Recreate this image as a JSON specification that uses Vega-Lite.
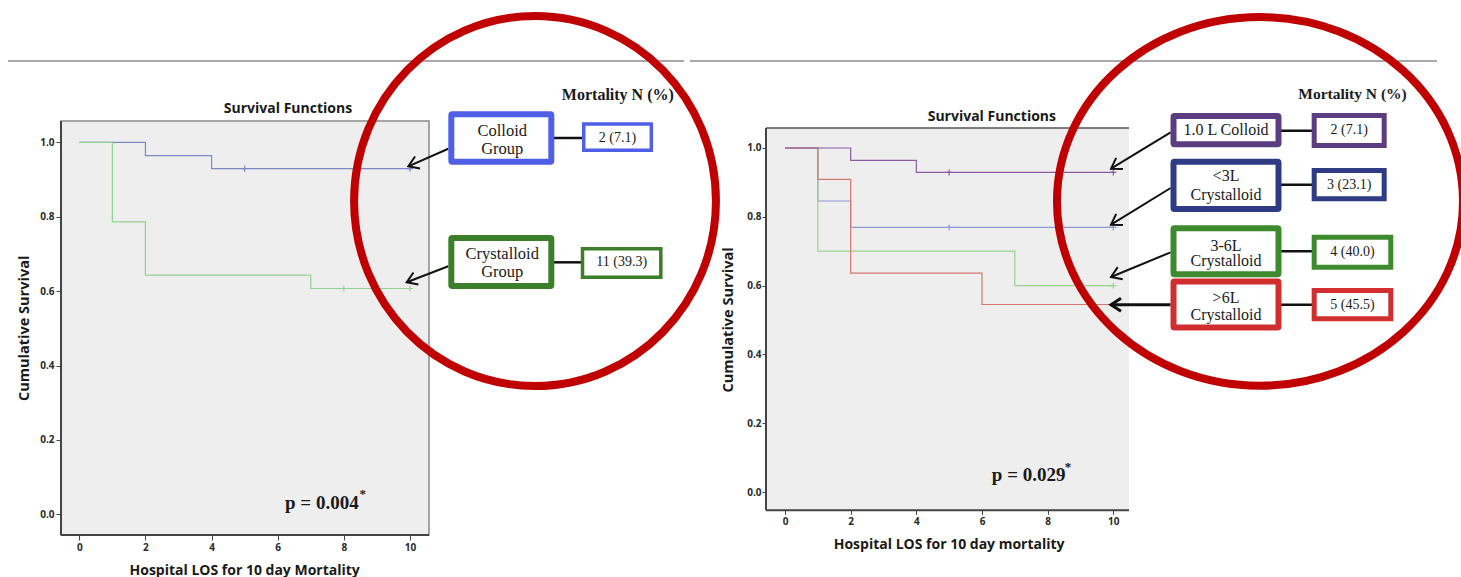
{
  "$schema": "https://vega.github.io/schema/vega-lite/v6.json",
  "padding": 0,
  "spacing": 0,
  "bounds": "flush",
  "background": "white",
  "config": {
    "view": {"stroke": null},
    "axis": {"grid": false, "domain": false, "labelFont": "Open Sans", "labelFontSize": 10, "labelFontWeight": "bold", "labelColor": "#2a2a2a", "tickColor": "#444444", "tickSize": 5, "labelPadding": 2, "titleOpacity": 0}
  },
  "resolve": {"scale": {"x": "independent", "y": "independent", "color": "independent", "stroke": "independent"}},
  "datasets": {
    "kmL": [
      {"group": "Colloid Group", "day": 0, "surv": 1},
      {"group": "Colloid Group", "day": 2, "surv": 0.964},
      {"group": "Colloid Group", "day": 4, "surv": 0.929},
      {"group": "Colloid Group", "day": 10, "surv": 0.929},
      {"group": "Crystalloid Group", "day": 0, "surv": 1},
      {"group": "Crystalloid Group", "day": 1, "surv": 0.786},
      {"group": "Crystalloid Group", "day": 2, "surv": 0.643},
      {"group": "Crystalloid Group", "day": 7, "surv": 0.607},
      {"group": "Crystalloid Group", "day": 10, "surv": 0.607}
    ],
    "censL": [
      {"group": "Colloid Group", "day": 5, "surv": 0.929},
      {"group": "Colloid Group", "day": 10, "surv": 0.929},
      {"group": "Crystalloid Group", "day": 8, "surv": 0.607},
      {"group": "Crystalloid Group", "day": 10, "surv": 0.607}
    ],
    "annL": [
      {"group": "Colloid Group", "bx0": 11.249, "bx1": 14.273, "by0": 1.0753, "by1": 0.9478, "sx0": 15.253, "sx1": 17.297, "sy0": 1.0492, "sy1": 0.9785, "cy": 1.0116, "ax0": 11.158, "ay0": 0.9828, "tx": 9.949, "ty": 0.9355},
      {"group": "Crystalloid Group", "bx0": 11.249, "bx1": 14.273, "by0": 0.7427, "by1": 0.6137, "sx0": 15.216, "sx1": 17.584, "sy0": 0.7137, "sy1": 0.6374, "cy": 0.6774, "ax0": 11.158, "ay0": 0.6667, "tx": 9.9, "ty": 0.6237}
    ],
    "txtL": [
      {"kind": "head", "text": "Survival Functions", "x": 6.31, "y": 1.09},
      {"kind": "mort", "text": "Mortality N (%)", "x": 16.285, "y": 1.1279},
      {"kind": "box", "text": "Colloid", "x": 12.79, "y": 1.0312},
      {"kind": "box", "text": "Group", "x": 12.79, "y": 0.9828},
      {"kind": "box", "text": "Crystalloid", "x": 12.79, "y": 0.7005},
      {"kind": "box", "text": "Group", "x": 12.79, "y": 0.6505},
      {"kind": "n", "text": "2 (7.1)", "x": 16.275, "y": 1.0116},
      {"kind": "n", "text": "11 (39.3)", "x": 16.4, "y": 0.6774},
      {"kind": "p", "text": "p = 0.004", "x": 6.22, "y": 0.03},
      {"kind": "star", "text": "*", "x": 8.47, "y": 0.054},
      {"kind": "yt", "text": "Cumulative Survival", "x": -1.642, "y": 0.5},
      {"kind": "xt", "text": "Hospital LOS for 10 day Mortality", "x": 5.0, "y": -0.152}
    ],
    "kmR": [
      {"group": "<3L Crystalloid", "day": 0, "surv": 1},
      {"group": "<3L Crystalloid", "day": 1, "surv": 0.846},
      {"group": "<3L Crystalloid", "day": 2, "surv": 0.769},
      {"group": "<3L Crystalloid", "day": 10, "surv": 0.769},
      {"group": "3-6L Crystalloid", "day": 0, "surv": 1},
      {"group": "3-6L Crystalloid", "day": 1, "surv": 0.7},
      {"group": "3-6L Crystalloid", "day": 7, "surv": 0.6},
      {"group": "3-6L Crystalloid", "day": 10, "surv": 0.6},
      {"group": ">6L Crystalloid", "day": 0, "surv": 1},
      {"group": ">6L Crystalloid", "day": 1, "surv": 0.909},
      {"group": ">6L Crystalloid", "day": 2, "surv": 0.636},
      {"group": ">6L Crystalloid", "day": 6, "surv": 0.545},
      {"group": ">6L Crystalloid", "day": 10, "surv": 0.545},
      {"group": "1.0 L Colloid", "day": 0, "surv": 1},
      {"group": "1.0 L Colloid", "day": 2, "surv": 0.964},
      {"group": "1.0 L Colloid", "day": 4, "surv": 0.929},
      {"group": "1.0 L Colloid", "day": 10, "surv": 0.929}
    ],
    "censR": [
      {"group": "<3L Crystalloid", "day": 5, "surv": 0.769},
      {"group": "<3L Crystalloid", "day": 10, "surv": 0.769},
      {"group": "3-6L Crystalloid", "day": 10, "surv": 0.6},
      {"group": "1.0 L Colloid", "day": 5, "surv": 0.929},
      {"group": "1.0 L Colloid", "day": 10, "surv": 0.929}
    ],
    "annR": [
      {"group": "1.0 L Colloid", "bx0": 11.834, "bx1": 15.032, "by0": 1.093, "by1": 1.0108, "sx0": 16.119, "sx1": 18.251, "sy0": 1.0945, "sy1": 1.0073, "cy": 1.0503, "ax0": 11.746, "ay0": 1.0456, "tx": 9.93, "ty": 0.9398},
      {"group": "<3L Crystalloid", "bx0": 11.834, "bx1": 15.032, "by0": 0.9602, "by1": 0.8227, "sx0": 16.119, "sx1": 18.251, "sy0": 0.9346, "sy1": 0.8523, "cy": 0.8933, "ax0": 11.746, "ay0": 0.8837, "tx": 9.93, "ty": 0.777},
      {"group": "3-6L Crystalloid", "bx0": 11.834, "bx1": 15.032, "by0": 0.7666, "by1": 0.6328, "sx0": 16.119, "sx1": 18.452, "sy0": 0.7407, "sy1": 0.6535, "cy": 0.6997, "ax0": 11.746, "ay0": 0.6968, "tx": 9.93, "ty": 0.625},
      {"group": ">6L Crystalloid", "bx0": 11.834, "bx1": 15.032, "by0": 0.6119, "by1": 0.4782, "sx0": 16.119, "sx1": 18.452, "sy0": 0.5858, "sy1": 0.5035, "cy": 0.5445, "ax0": 11.746, "ay0": 0.5445, "tx": 9.93, "ty": 0.5445}
    ],
    "txtR": [
      {"kind": "head", "text": "Survival Functions", "x": 6.3, "y": 1.089},
      {"kind": "mort", "text": "Mortality N (%)", "x": 17.286, "y": 1.157},
      {"kind": "box", "text": "1.0 L Colloid", "x": 13.433, "y": 1.0509},
      {"kind": "box", "text": "<3L", "x": 13.433, "y": 0.9177},
      {"kind": "box", "text": "Crystalloid", "x": 13.433, "y": 0.8625},
      {"kind": "box", "text": "3-6L", "x": 13.433, "y": 0.7142},
      {"kind": "box", "text": "Crystalloid", "x": 13.433, "y": 0.6724},
      {"kind": "box", "text": ">6L", "x": 13.433, "y": 0.564},
      {"kind": "box", "text": "Crystalloid", "x": 13.433, "y": 0.5154},
      {"kind": "n", "text": "2 (7.1)", "x": 17.185, "y": 1.0509},
      {"kind": "n", "text": "3 (23.1)", "x": 17.185, "y": 0.8933},
      {"kind": "n", "text": "4 (40.0)", "x": 17.286, "y": 0.6968},
      {"kind": "n", "text": "5 (45.5)", "x": 17.286, "y": 0.5445},
      {"kind": "p", "text": "p = 0.029", "x": 6.3, "y": 0.05},
      {"kind": "star", "text": "*", "x": 8.52, "y": 0.072},
      {"kind": "yt", "text": "Cumulative Survival", "x": -1.706, "y": 0.5},
      {"kind": "xt", "text": "Hospital LOS for 10 day mortality", "x": 5.0, "y": -0.153}
    ]
  },
  "hconcat": [
    {
      "width": 688,
      "height": 577,
      "layer": [
        {
          "data": {"values": [{}]},
          "mark": {"type": "rect", "fill": "#eeeeee", "stroke": "#8a8a8a", "strokeWidth": 1.5},
          "encoding": {
            "x": {"datum": -0.553, "type": "quantitative", "scale": {"domain": [-2.398, 18.406], "nice": false, "zero": false}},
            "x2": {"datum": 10.574},
            "y": {"datum": -0.0556, "type": "quantitative", "scale": {"domain": [-0.1766, 1.3745], "nice": false, "zero": false}},
            "y2": {"datum": 1.0573}
          }
        },
        {
          "data": {"values": [{}]},
          "mark": {"type": "rule", "color": "#444444", "strokeWidth": 2},
          "encoding": {
            "x": {"datum": -0.553, "type": "quantitative"},
            "y": {"datum": -0.0556, "type": "quantitative"},
            "y2": {"datum": 1.0573}
          }
        },
        {
          "data": {"values": [{}]},
          "mark": {"type": "rule", "color": "#444444", "strokeWidth": 2},
          "encoding": {
            "x": {"datum": -0.553, "type": "quantitative"},
            "x2": {"datum": 10.574},
            "y": {"datum": -0.0556, "type": "quantitative"}
          }
        },
        {
          "data": {"values": [{}]},
          "mark": {"type": "rule", "color": "#8c8c8c", "strokeWidth": 1.5},
          "encoding": {
            "x": {"datum": -2.156, "type": "quantitative"},
            "x2": {"datum": 18.285},
            "y": {"datum": 1.2185, "type": "quantitative"}
          }
        },
        {
          "data": {"name": "kmL"},
          "mark": {"type": "line", "interpolate": "step-after", "strokeWidth": 1.2},
          "encoding": {
            "x": {"field": "day", "type": "quantitative", "scale": {"domain": [-2.398, 18.406], "nice": false, "zero": false}, "axis": {"values": [0, 2, 4, 6, 8, 10], "offset": -45, "title": null, "format": "d"}},
            "y": {"field": "surv", "type": "quantitative", "scale": {"domain": [-0.1766, 1.3745], "nice": false, "zero": false}, "axis": {"values": [0, 0.2, 0.4, 0.6, 0.8, 1], "offset": -61, "title": null, "format": ".1f"}},
            "color": {"field": "group", "type": "nominal", "scale": {"domain": ["Colloid Group", "Crystalloid Group"], "range": ["#7c88c8", "#93d093"]}, "legend": null}
          }
        },
        {
          "data": {"name": "censL"},
          "mark": {"type": "point", "shape": "M0,-1L0,1M-1,0L1,0", "size": 36, "filled": false, "strokeWidth": 1.2, "opacity": 1},
          "encoding": {
            "x": {"field": "day", "type": "quantitative"},
            "y": {"field": "surv", "type": "quantitative"},
            "color": {"field": "group", "type": "nominal", "legend": null}
          }
        },
        {
          "data": {"values": [{}]},
          "mark": {"type": "point", "shape": "M0.978,0C0.978,0.5523 0.5402,1 0,1C-0.5402,1 -0.978,0.5523 -0.978,0C-0.978,-0.5523 -0.5402,-1 0,-1C0.5402,-1 0.978,-0.5523 0.978,0Z", "size": 136900, "filled": false, "color": "#c00000", "strokeWidth": 8, "opacity": 1},
          "encoding": {
            "x": {"datum": 13.78, "type": "quantitative"},
            "y": {"datum": 0.8422, "type": "quantitative"}
          }
        },
        {
          "data": {"name": "annL"},
          "mark": {"type": "rule", "color": "#111111", "strokeWidth": 2},
          "encoding": {
            "x": {"field": "ax0", "type": "quantitative"},
            "y": {"field": "ay0", "type": "quantitative"},
            "x2": {"field": "tx"},
            "y2": {"field": "ty"}
          }
        },
        {
          "data": {"name": "annL"},
          "mark": {"type": "point", "shape": "M-1,-0.65L0,0L-1,0.65", "size": 400, "filled": false, "color": "#111111", "strokeWidth": 2, "opacity": 1, "angle": 157.5},
          "encoding": {
            "x": {"field": "tx", "type": "quantitative"},
            "y": {"field": "ty", "type": "quantitative"}
          }
        },
        {
          "data": {"name": "annL"},
          "mark": {"type": "rule", "color": "#111111", "strokeWidth": 2.5},
          "encoding": {
            "x": {"field": "bx1", "type": "quantitative"},
            "x2": {"field": "sx0"},
            "y": {"field": "cy", "type": "quantitative"}
          }
        },
        {
          "data": {"name": "annL"},
          "mark": {"type": "rect", "fill": "white", "strokeWidth": 6, "cornerRadius": 1},
          "encoding": {
            "x": {"field": "bx0", "type": "quantitative"},
            "x2": {"field": "bx1"},
            "y": {"field": "by0", "type": "quantitative"},
            "y2": {"field": "by1"},
            "stroke": {"field": "group", "type": "nominal", "scale": {"domain": ["Colloid Group", "Crystalloid Group"], "range": ["#4f5fe6", "#3b7f2b"]}, "legend": null}
          }
        },
        {
          "data": {"name": "annL"},
          "mark": {"type": "rect", "fill": "white", "strokeWidth": 3.5},
          "encoding": {
            "x": {"field": "sx0", "type": "quantitative"},
            "x2": {"field": "sx1"},
            "y": {"field": "sy0", "type": "quantitative"},
            "y2": {"field": "sy1"},
            "stroke": {"field": "group", "type": "nominal", "legend": null}
          }
        },
        {
          "data": {"name": "txtL"},
          "transform": [{"filter": "datum.kind === 'head'"}],
          "mark": {"type": "text", "font": "Open Sans", "fontWeight": "bold", "fontSize": 14, "color": "#1a1a1a"},
          "encoding": {"x": {"field": "x", "type": "quantitative"}, "y": {"field": "y", "type": "quantitative"}, "text": {"field": "text"}}
        },
        {
          "data": {"name": "txtL"},
          "transform": [{"filter": "datum.kind === 'mort'"}],
          "mark": {"type": "text", "font": "Liberation Serif", "fontWeight": "bold", "fontSize": 16, "color": "#1a1a1a"},
          "encoding": {"x": {"field": "x", "type": "quantitative"}, "y": {"field": "y", "type": "quantitative"}, "text": {"field": "text"}}
        },
        {
          "data": {"name": "txtL"},
          "transform": [{"filter": "datum.kind === 'box'"}],
          "mark": {"type": "text", "font": "Liberation Serif", "fontSize": 16.5, "color": "#1a1a1a"},
          "encoding": {"x": {"field": "x", "type": "quantitative"}, "y": {"field": "y", "type": "quantitative"}, "text": {"field": "text"}}
        },
        {
          "data": {"name": "txtL"},
          "transform": [{"filter": "datum.kind === 'n'"}],
          "mark": {"type": "text", "font": "Liberation Serif", "fontSize": 14, "color": "#1a1a1a"},
          "encoding": {"x": {"field": "x", "type": "quantitative"}, "y": {"field": "y", "type": "quantitative"}, "text": {"field": "text"}}
        },
        {
          "data": {"name": "txtL"},
          "transform": [{"filter": "datum.kind === 'p'"}],
          "mark": {"type": "text", "font": "Liberation Serif", "fontWeight": "bold", "fontSize": 19, "align": "left", "color": "#1a1a1a"},
          "encoding": {"x": {"field": "x", "type": "quantitative"}, "y": {"field": "y", "type": "quantitative"}, "text": {"field": "text"}}
        },
        {
          "data": {"name": "txtL"},
          "transform": [{"filter": "datum.kind === 'star'"}],
          "mark": {"type": "text", "font": "Liberation Serif", "fontWeight": "bold", "fontSize": 13, "align": "left", "color": "#1a1a1a"},
          "encoding": {"x": {"field": "x", "type": "quantitative"}, "y": {"field": "y", "type": "quantitative"}, "text": {"field": "text"}}
        },
        {
          "data": {"name": "txtL"},
          "transform": [{"filter": "datum.kind === 'yt'"}],
          "mark": {"type": "text", "font": "Open Sans", "fontWeight": "bold", "fontSize": 14.5, "angle": 270, "color": "#1a1a1a"},
          "encoding": {"x": {"field": "x", "type": "quantitative"}, "y": {"field": "y", "type": "quantitative"}, "text": {"field": "text"}}
        },
        {
          "data": {"name": "txtL"},
          "transform": [{"filter": "datum.kind === 'xt'"}],
          "mark": {"type": "text", "font": "Open Sans", "fontWeight": "bold", "fontSize": 14, "color": "#1a1a1a"},
          "encoding": {"x": {"field": "x", "type": "quantitative"}, "y": {"field": "y", "type": "quantitative"}, "text": {"field": "text"}}
        }
      ]
    },
    {
      "width": 773,
      "height": 577,
      "layer": [
        {
          "data": {"values": [{}]},
          "mark": {"type": "rect", "fill": "#eeeeee"},
          "encoding": {
            "x": {"datum": -0.579, "type": "quantitative", "scale": {"domain": [-2.955, 20.591], "nice": false, "zero": false}},
            "x2": {"datum": 10.478},
            "y": {"datum": -0.0532, "type": "quantitative", "scale": {"domain": [-0.2558, 1.4215], "nice": false, "zero": false}},
            "y2": {"datum": 1.058}
          }
        },
        {
          "data": {"values": [{}]},
          "mark": {"type": "rule", "color": "#444444", "strokeWidth": 2},
          "encoding": {
            "x": {"datum": -0.579, "type": "quantitative"},
            "y": {"datum": -0.0532, "type": "quantitative"},
            "y2": {"datum": 1.058}
          }
        },
        {
          "data": {"values": [{}]},
          "mark": {"type": "rule", "color": "#444444", "strokeWidth": 2},
          "encoding": {
            "x": {"datum": -0.579, "type": "quantitative"},
            "x2": {"datum": 10.478},
            "y": {"datum": -0.0532, "type": "quantitative"}
          }
        },
        {
          "data": {"values": [{}]},
          "mark": {"type": "rule", "color": "#555555", "strokeWidth": 1.5},
          "encoding": {
            "x": {"datum": -0.579, "type": "quantitative"},
            "x2": {"datum": 10.478},
            "y": {"datum": 1.058, "type": "quantitative"}
          }
        },
        {
          "data": {"values": [{}]},
          "mark": {"type": "rule", "color": "#8c8c8c", "strokeWidth": 1.5},
          "encoding": {
            "x": {"datum": -2.894, "type": "quantitative"},
            "x2": {"datum": 19.86},
            "y": {"datum": 1.2529, "type": "quantitative"}
          }
        },
        {
          "data": {"name": "kmR"},
          "mark": {"type": "line", "interpolate": "step-after", "strokeWidth": 1.2},
          "encoding": {
            "x": {"field": "day", "type": "quantitative", "scale": {"domain": [-2.955, 20.591], "nice": false, "zero": false}, "axis": {"values": [0, 2, 4, 6, 8, 10], "offset": -69.7, "title": null, "format": "d", "tickSize": 4}},
            "y": {"field": "surv", "type": "quantitative", "scale": {"domain": [-0.2558, 1.4215], "nice": false, "zero": false}, "axis": {"values": [0, 0.2, 0.4, 0.6, 0.8, 1], "offset": -78, "title": null, "format": ".1f", "tickSize": 4, "labelPadding": 1}},
            "color": {"field": "group", "type": "nominal", "scale": {"domain": ["<3L Crystalloid", "3-6L Crystalloid", ">6L Crystalloid", "1.0 L Colloid"], "range": ["#8f98d8", "#98d48a", "#d5776c", "#8b5aa3"]}, "legend": null}
          }
        },
        {
          "data": {"name": "censR"},
          "mark": {"type": "point", "shape": "M0,-1L0,1M-1,0L1,0", "size": 36, "filled": false, "strokeWidth": 1.2, "opacity": 1},
          "encoding": {
            "x": {"field": "day", "type": "quantitative"},
            "y": {"field": "surv", "type": "quantitative"},
            "color": {"field": "group", "type": "nominal", "legend": null}
          }
        },
        {
          "data": {"values": [{}]},
          "mark": {"type": "point", "shape": "M1.1015,0C1.1015,0.5523 0.6084,1 0,1C-0.6084,1 -1.1015,0.5523 -1.1015,0C-1.1015,-0.5523 -0.6084,-1 0,-1C0.6084,-1 1.1015,-0.5523 1.1015,0Z", "size": 135869, "filled": false, "color": "#c00000", "strokeWidth": 8, "opacity": 1},
          "encoding": {
            "x": {"datum": 14.468, "type": "quantitative"},
            "y": {"datum": 0.8448, "type": "quantitative"}
          }
        },
        {
          "data": {"name": "annR"},
          "transform": [{"filter": "datum.group !== '>6L Crystalloid'"}],
          "mark": {"type": "rule", "color": "#111111", "strokeWidth": 2},
          "encoding": {
            "x": {"field": "ax0", "type": "quantitative"},
            "y": {"field": "ay0", "type": "quantitative"},
            "x2": {"field": "tx"},
            "y2": {"field": "ty"}
          }
        },
        {
          "data": {"name": "annR"},
          "transform": [{"filter": "datum.group === '>6L Crystalloid'"}],
          "mark": {"type": "rule", "color": "#111111", "strokeWidth": 3},
          "encoding": {
            "x": {"field": "ax0", "type": "quantitative"},
            "y": {"field": "ay0", "type": "quantitative"},
            "x2": {"field": "tx"},
            "y2": {"field": "ty"}
          }
        },
        {
          "data": {"name": "annR"},
          "transform": [{"filter": "datum.group === '1.0 L Colloid' || datum.group === '<3L Crystalloid'"}],
          "mark": {"type": "point", "shape": "M-1,-0.65L0,0L-1,0.65", "size": 400, "filled": false, "color": "#111111", "strokeWidth": 2, "opacity": 1, "angle": 148.5},
          "encoding": {
            "x": {"field": "tx", "type": "quantitative"},
            "y": {"field": "ty", "type": "quantitative"}
          }
        },
        {
          "data": {"name": "annR"},
          "transform": [{"filter": "datum.group === '3-6L Crystalloid'"}],
          "mark": {"type": "point", "shape": "M-1,-0.65L0,0L-1,0.65", "size": 400, "filled": false, "color": "#111111", "strokeWidth": 2, "opacity": 1, "angle": 157.5},
          "encoding": {
            "x": {"field": "tx", "type": "quantitative"},
            "y": {"field": "ty", "type": "quantitative"}
          }
        },
        {
          "data": {"name": "annR"},
          "transform": [{"filter": "datum.group === '>6L Crystalloid'"}],
          "mark": {"type": "point", "shape": "M-1,-0.65L0,0L-1,0.65", "size": 400, "filled": false, "color": "#111111", "strokeWidth": 3, "opacity": 1, "angle": 180},
          "encoding": {
            "x": {"field": "tx", "type": "quantitative"},
            "y": {"field": "ty", "type": "quantitative"}
          }
        },
        {
          "data": {"name": "annR"},
          "mark": {"type": "rule", "color": "#111111", "strokeWidth": 2.5},
          "encoding": {
            "x": {"field": "bx1", "type": "quantitative"},
            "x2": {"field": "sx0"},
            "y": {"field": "cy", "type": "quantitative"}
          }
        },
        {
          "data": {"name": "annR"},
          "mark": {"type": "rect", "fill": "white", "strokeWidth": 6, "cornerRadius": 1},
          "encoding": {
            "x": {"field": "bx0", "type": "quantitative"},
            "x2": {"field": "bx1"},
            "y": {"field": "by0", "type": "quantitative"},
            "y2": {"field": "by1"},
            "stroke": {"field": "group", "type": "nominal", "scale": {"domain": ["1.0 L Colloid", "<3L Crystalloid", "3-6L Crystalloid", ">6L Crystalloid"], "range": ["#5c3d82", "#2f3b85", "#3e8a2e", "#d12f2f"]}, "legend": null}
          }
        },
        {
          "data": {"name": "annR"},
          "mark": {"type": "rect", "fill": "white", "strokeWidth": 5},
          "encoding": {
            "x": {"field": "sx0", "type": "quantitative"},
            "x2": {"field": "sx1"},
            "y": {"field": "sy0", "type": "quantitative"},
            "y2": {"field": "sy1"},
            "stroke": {"field": "group", "type": "nominal", "legend": null}
          }
        },
        {
          "data": {"name": "txtR"},
          "transform": [{"filter": "datum.kind === 'head'"}],
          "mark": {"type": "text", "font": "Open Sans", "fontWeight": "bold", "fontSize": 14, "color": "#1a1a1a"},
          "encoding": {"x": {"field": "x", "type": "quantitative"}, "y": {"field": "y", "type": "quantitative"}, "text": {"field": "text"}}
        },
        {
          "data": {"name": "txtR"},
          "transform": [{"filter": "datum.kind === 'mort'"}],
          "mark": {"type": "text", "font": "Liberation Serif", "fontWeight": "bold", "fontSize": 15.5, "color": "#1a1a1a"},
          "encoding": {"x": {"field": "x", "type": "quantitative"}, "y": {"field": "y", "type": "quantitative"}, "text": {"field": "text"}}
        },
        {
          "data": {"name": "txtR"},
          "transform": [{"filter": "datum.kind === 'box'"}],
          "mark": {"type": "text", "font": "Liberation Serif", "fontSize": 16, "color": "#1a1a1a"},
          "encoding": {"x": {"field": "x", "type": "quantitative"}, "y": {"field": "y", "type": "quantitative"}, "text": {"field": "text"}}
        },
        {
          "data": {"name": "txtR"},
          "transform": [{"filter": "datum.kind === 'n'"}],
          "mark": {"type": "text", "font": "Liberation Serif", "fontSize": 14, "color": "#1a1a1a"},
          "encoding": {"x": {"field": "x", "type": "quantitative"}, "y": {"field": "y", "type": "quantitative"}, "text": {"field": "text"}}
        },
        {
          "data": {"name": "txtR"},
          "transform": [{"filter": "datum.kind === 'p'"}],
          "mark": {"type": "text", "font": "Liberation Serif", "fontWeight": "bold", "fontSize": 19, "align": "left", "color": "#1a1a1a"},
          "encoding": {"x": {"field": "x", "type": "quantitative"}, "y": {"field": "y", "type": "quantitative"}, "text": {"field": "text"}}
        },
        {
          "data": {"name": "txtR"},
          "transform": [{"filter": "datum.kind === 'star'"}],
          "mark": {"type": "text", "font": "Liberation Serif", "fontWeight": "bold", "fontSize": 13, "align": "left", "color": "#1a1a1a"},
          "encoding": {"x": {"field": "x", "type": "quantitative"}, "y": {"field": "y", "type": "quantitative"}, "text": {"field": "text"}}
        },
        {
          "data": {"name": "txtR"},
          "transform": [{"filter": "datum.kind === 'yt'"}],
          "mark": {"type": "text", "font": "Open Sans", "fontWeight": "bold", "fontSize": 14.5, "angle": 270, "color": "#1a1a1a"},
          "encoding": {"x": {"field": "x", "type": "quantitative"}, "y": {"field": "y", "type": "quantitative"}, "text": {"field": "text"}}
        },
        {
          "data": {"name": "txtR"},
          "transform": [{"filter": "datum.kind === 'xt'"}],
          "mark": {"type": "text", "font": "Open Sans", "fontWeight": "bold", "fontSize": 14, "color": "#1a1a1a"},
          "encoding": {"x": {"field": "x", "type": "quantitative"}, "y": {"field": "y", "type": "quantitative"}, "text": {"field": "text"}}
        }
      ]
    }
  ]
}
